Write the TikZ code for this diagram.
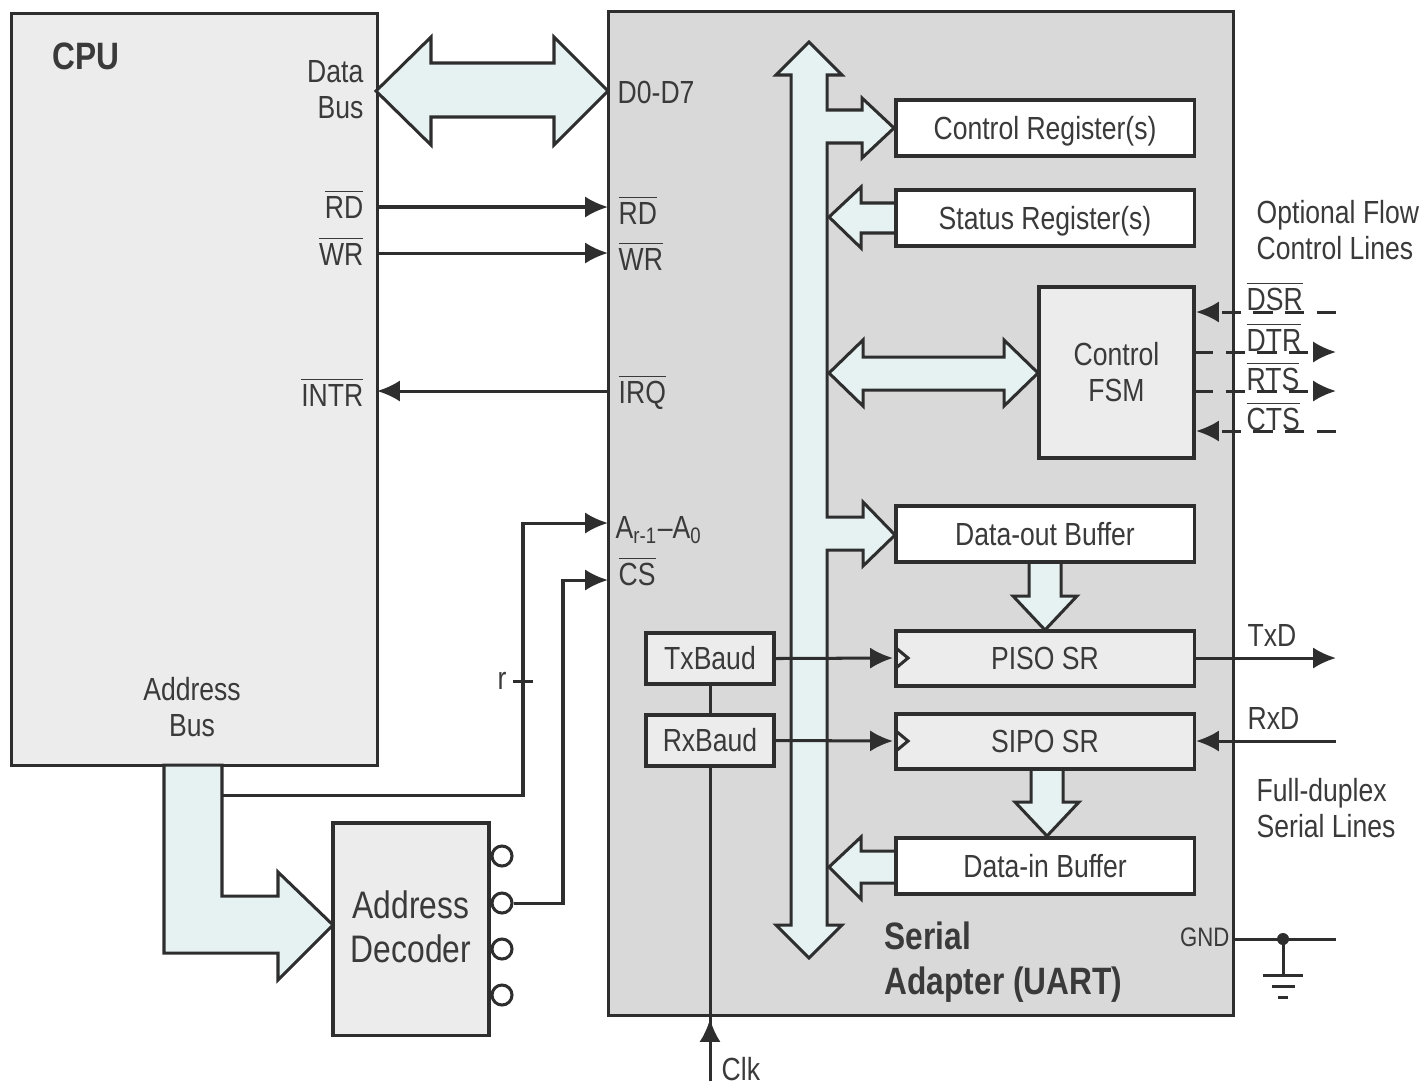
\documentclass[tikz,border=0pt]{standalone}
\usepackage{fontspec}
\setmainfont[FakeStretch=0.83]{Liberation Sans}
\usetikzlibrary{arrows.meta}
\definecolor{bus}{HTML}{E6F2F2}
\definecolor{trait}{HTML}{2E2E2E}
\definecolor{texte}{HTML}{3A3A3A}
\definecolor{fond}{HTML}{D9D9D9}
\definecolor{bloc}{HTML}{ECECEC}
\newcommand{\barre}[1]{$\overline{\mbox{#1}}$}
\begin{document}
\begin{tikzpicture}[x=0.01cm,y=-0.01cm]
	% Styles
	\tikzstyle{fil}=[-{Latex[length=6.5pt,width=6pt]},line width=0.86pt,trait]
	\tikzstyle{filnu}=[line width=0.86pt,trait]
	\tikzstyle{pointille}=[dash pattern=on 5.5pt off 3.5pt]
	\tikzstyle{grosbus}=[draw=trait,fill=bus,line width=0.86pt,line join=miter]
	\tikzstyle{boite}=[draw=trait,line width=0.9pt,inner sep=0pt,align=center,text=texte,font=\fontsize{9.1}{10.24}\selectfont]
	\tikzstyle{blanc}=[boite,fill=white,text height=7.7pt,text depth=1pt]
	\tikzstyle{gris}=[boite,fill=bloc]
	\tikzstyle{etiq}=[inner sep=0pt,align=center,text=texte,font=\fontsize{9.1}{10.24}\selectfont]
	\tikzstyle{sortie}=[circle,draw=trait,fill=white,line width=0.86pt,inner sep=0pt,minimum size=0.2cm]
	\tikzstyle{titre}=[inner sep=0pt,align=left,text=texte,font=\fontsize{10.85}{12.6}\selectfont\bfseries]
	\useasboundingbox (0,0) rectangle (1422,1084);
	% Blocs principaux
	\node[gris,fill=bloc,minimum width=3.65cm,minimum height=7.51cm] (CPU) at (194.5,389.5) {};
	\node[boite,fill=fond,minimum width=6.24cm,minimum height=10.03cm] (UART) at (921,513.5) {};
	% Gros bus
	\draw[grosbus] (376,91)--(431,37)--(431,63)--(554,63)--(554,37)--(608,91)--(554,145)--(554,117)--(431,117)--(431,145)--cycle;
	\draw[grosbus] (809,42)--(842,75)--(827,75)--(827,110)--(862,110)--(862,98)--(894,128)--(862,158)--(862,143)--(827,143)--(827,517)--(863,517)--(863,502)--(895,535)--(863,566)--(863,550)--(827,550)--(827,925)--(842,925)--(809,958)--(776,925)--(791,925)--(791,75)--(776,75)--cycle;
	\draw[grosbus] (896,203)--(861,203)--(861,187)--(829,217)--(861,248)--(861,233)--(896,233)--cycle;
	\draw[grosbus] (829,373)--(863,340)--(863,357)--(1004,357)--(1004,340)--(1038,373)--(1004,406)--(1004,390)--(863,390)--(863,406)--cycle;
	\draw[grosbus] (1029,562)--(1061,562)--(1061,596)--(1077,596)--(1045,630)--(1013,596)--(1029,596)--cycle;
	\draw[grosbus] (1031,769)--(1063,769)--(1063,802)--(1079,802)--(1047,836)--(1015,802)--(1031,802)--cycle;
	\draw[grosbus] (896,851)--(861,851)--(861,837)--(829,867)--(861,899)--(861,883)--(896,883)--cycle;
	\draw[grosbus] (164,765)--(222,765)--(222,896)--(278,896)--(278,872)--(333,925)--(278,980)--(278,953)--(164,953)--cycle;
	% Noeuds
	\node[blanc,minimum width=2.98cm,minimum height=0.56cm] (CtrlReg) at (1045,128) {Control Register(s)};
	\node[blanc,minimum width=2.98cm,minimum height=0.56cm] (StatReg) at (1045,218) {Status Register(s)};
	\node[gris,minimum width=1.55cm,minimum height=1.71cm] (FSM) at (1116.5,372.5) {Control\\FSM};
	\node[blanc,minimum width=2.98cm,minimum height=0.56cm] (DataOut) at (1045,534) {Data-out Buffer};
	\node[gris,minimum width=2.98cm,minimum height=0.55cm] (PISO) at (1045,658.5) {PISO SR};
	\node[gris,minimum width=2.98cm,minimum height=0.55cm] (SIPO) at (1045,741.5) {SIPO SR};
	\node[blanc,minimum width=2.98cm,minimum height=0.56cm] (DataIn) at (1045,866) {Data-in Buffer};
	\node[gris,minimum width=1.28cm,minimum height=0.51cm] (TxBaud) at (710,658.5) {TxBaud};
	\node[gris,minimum width=1.28cm,minimum height=0.51cm] (RxBaud) at (710,740.5) {RxBaud};
	\node[gris,minimum width=1.56cm,minimum height=2.12cm,text depth=1.4pt,font=\fontsize{10.9}{12.5}\selectfont] (Decodeur) at (411,929) {Address\\Decoder};
	\node[sortie] (S1) at (502,856) {};
	\node[sortie] (S2) at (502,903) {};
	\node[sortie] (S3) at (502,949) {};
	\node[sortie] (S4) at (502,995) {};
	% Points libres
	\coordinate (cpuRD) at (377,207);
	\coordinate (uartRD) at (608,207);
	\coordinate (cpuWR) at (377,253);
	\coordinate (uartWR) at (608,253);
	\coordinate (cpuIN) at (377,391);
	\coordinate (uartIR) at (608,391);
	\coordinate (busA) at (222,795);
	\coordinate (uartA) at (608,523);
	\coordinate (uartCS) at (608,580);
	\coordinate (clkA) at (710,1081);
	\coordinate (txIn) at (893,658);
	\coordinate (rxIn) at (893,741);
	\coordinate (txOut) at (1336,658);
	\coordinate (rxOut) at (1336,741);
	\coordinate (dsrA) at (1336,312);
	\coordinate (dsrB) at (1196,312);
	\coordinate (dtrA) at (1194,352);
	\coordinate (dtrB) at (1336,352);
	\coordinate (rtsA) at (1194,391);
	\coordinate (rtsB) at (1336,391);
	\coordinate (ctsA) at (1336,431);
	\coordinate (ctsB) at (1196,431);
	\coordinate (gndA) at (1233,939);
	\coordinate (gndB) at (1336,939);
	\coordinate (gndC) at (1283,975);
	% Arcs
	\draw[fil] (cpuRD)--(uartRD);
	\draw[fil] (cpuWR)--(uartWR);
	\draw[fil] (uartIR)--(cpuIN);
	\draw[fil] (busA)--(523,795)--(523,523)--(uartA);
	\draw[fil] (S2.east)--(563,903)--(563,580)--(uartCS);
	\draw[filnu] (513,681)--(533,681);
	\draw[filnu] (TxBaud.south)--(RxBaud.north);
	\draw[filnu] (RxBaud.south)--(clkA);
	\draw[fil] (clkA)--(710,1019);
	\draw[fil] (TxBaud.east)--(txIn);
	\draw[fil] (RxBaud.east)--(rxIn);
	\draw[filnu] (896,648)--(908,658)--(896,668);
	\draw[filnu] (896,731)--(908,741)--(896,751);
	\draw[fil] (1194,658)--(txOut);
	\draw[fil] (rxOut)--(1196,741);
	\draw[fil,pointille] (dsrA)--(dsrB);
	\draw[fil,pointille] (dtrA)--(dtrB);
	\draw[fil,pointille] (rtsA)--(rtsB);
	\draw[fil,pointille] (ctsA)--(ctsB);
	\draw[filnu] (gndA)--(gndB);
	\draw[filnu] (1283,939)--(gndC);
	\fill[trait] (1283,939) circle (6);
	\draw[filnu] (1263,975)--(1303,975);
	\draw[filnu] (1272,986)--(1295,986);
	\draw[filnu] (1278,997)--(1288,997);
	% Etiquettes
	\node[titre] (tCPU) at (86,56) {CPU};
	\node[titre,anchor=west] (tUART) at (884,962) {Serial\\Adapter (UART)};
	\node[etiq,anchor=east,align=right] (tData) at (364,90) {Data\\Bus};
	\node[etiq,anchor=east] (tRD) at (364,204) {\barre{RD}};
	\node[etiq,anchor=east] (tWR) at (364,251) {\barre{WR}};
	\node[etiq,anchor=east] (tINTR) at (364,392) {\barre{INTR}};
	\node[etiq] (tAddr) at (192,707) {Address\\Bus};
	\node[etiq,anchor=west] (tD) at (617,92) {D0-D7};
	\node[etiq,anchor=west] (uRD) at (618,210) {\barre{RD}};
	\node[etiq,anchor=west] (uWR) at (618,256) {\barre{WR}};
	\node[etiq,anchor=west] (uIRQ) at (618,392) {\barre{IRQ}};
	\node[etiq,anchor=west] (uA) at (615,530) {A\textsubscript{r-1}--A\textsubscript{0}};
	\node[etiq,anchor=west] (uCS) at (618,571) {\barre{CS}};
	\node[etiq] (tr) at (502,681) {r};
	\node[etiq,anchor=west] (tClk) at (721,1069) {Clk};
	\node[etiq,anchor=west,align=left] (tFlow) at (1256,230) {Optional Flow\\Control Lines};
	\node[etiq,anchor=west] (tDSR) at (1246,296) {\barre{DSR}};
	\node[etiq,anchor=west] (tDTR) at (1246,337) {\barre{DTR}};
	\node[etiq,anchor=west] (tRTS) at (1246,376) {\barre{RTS}};
	\node[etiq,anchor=west] (tCTS) at (1246,416) {\barre{CTS}};
	\node[etiq,anchor=west] (tTx) at (1247,635) {TxD};
	\node[etiq,anchor=west] (tRx) at (1247,718) {RxD};
	\node[etiq,anchor=west,align=left] (tFull) at (1256,808) {Full-duplex\\Serial Lines};
	\node[etiq,anchor=east,font=\fontsize{7.6}{9}\selectfont] (tGND) at (1230,937) {GND};
\end{tikzpicture}
\end{document}
